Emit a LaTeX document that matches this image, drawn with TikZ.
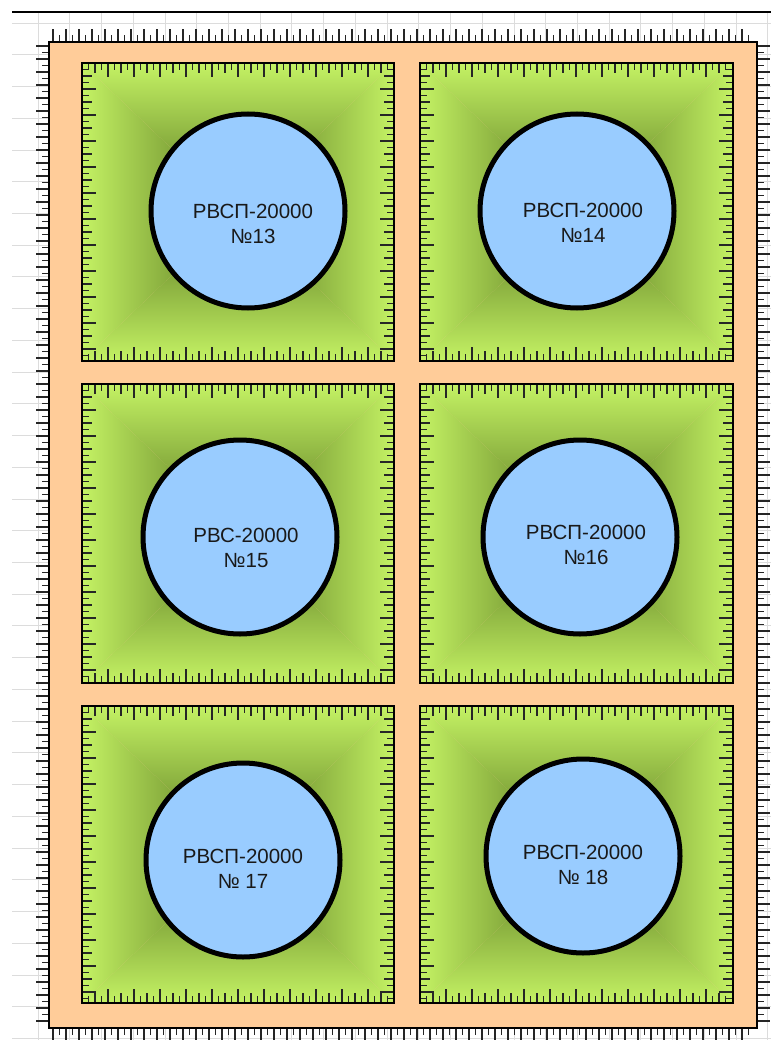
\documentclass[tikz,border=0pt]{standalone}
\usepackage{fontspec}
\setmainfont{Liberation Sans}
\definecolor{bundfill}{HTML}{FFCC99}
\definecolor{padedge}{HTML}{C4F264}
\definecolor{padmid}{HTML}{56741F}
\definecolor{tankblue}{HTML}{99CCFF}
\definecolor{gridgray}{HTML}{DCDCDC}
\tikzset{
  gridline/.style={gridgray,line width=0.8pt},
  rim/.style={draw=black,line width=2.4pt},
  rulemark/.style={black!85,line width=1.2pt},
  tank/.style={circle,draw=black,line width=5pt,fill=tankblue,minimum size=194pt,inner sep=0pt},
  tanklabel/.style={align=center,text=black!90,font=\fontsize{20.5}{25}\selectfont}
}
% one bunded pad: left, top, right, bottom
\newcommand{\bundpad}[4]{%
  \coordinate (m) at ({(#1+#3)/2},{(#2+#4)/2});
  \shade[top color=padedge,bottom color=padmid] (#1,#2) -- (#3,#2) -- (m) -- cycle;
  \shade[top color=padmid,bottom color=padedge] (#1,#4) -- (#3,#4) -- (m) -- cycle;
  \shade[left color=padedge,right color=padmid] (#1,#2) -- (#1,#4) -- (m) -- cycle;
  \shade[left color=padmid,right color=padedge] (#3,#2) -- (#3,#4) -- (m) -- cycle;
  \foreach \i [evaluate=\i as \l using {ifthenelse(mod(\i,4)==0,14,ifthenelse(mod(\i,2)==0,10,7))}] in {1,...,47} {
    \draw[rulemark] ({#1+\i*6.5},#2) -- ++(0,\l);
    \draw[rulemark] ({#1+\i*6.5},#4) -- ++(0,-\l);
  }
  \foreach \i [evaluate=\i as \l using {ifthenelse(mod(\i,4)==0,14,ifthenelse(mod(\i,2)==0,10,7))}] in {1,...,45} {
    \draw[rulemark] (#1,{#2+\i*6.5}) -- ++(\l,0);
    \draw[rulemark] (#3,{#2+\i*6.5}) -- ++(-\l,0);
  }
  \draw[rim] (#1,#2) rectangle (#3,#4);
}

\begin{document}
\begin{tikzpicture}[x=1pt,y=-1pt]
  \useasboundingbox[fill=white] (0,0) rectangle (771,1040);
  \foreach \k in {0,...,23} \draw[gridline] ({38+\k*31.73},12) -- ++(0,1028);
  \foreach \k in {0,...,32} \draw[gridline] (12,{23+\k*31.73}) -- ++(759,0);
  \draw[black,line width=1.2pt] (12,12) -- (771,12);

  \foreach \i [evaluate=\i as \l using {ifthenelse(mod(\i,2)==0,13,7)}] in {0,...,107} {
    \draw[rulemark] ({53+\i*6.5},42) -- ++(0,-\l);
    \draw[rulemark] ({53+\i*6.5},1028) -- ++(0,\l);
  }
  \foreach \i [evaluate=\i as \l using {ifthenelse(mod(\i,2)==0,13,7)}] in {0,...,150} {
    \draw[rulemark] (49,{46+\i*6.5}) -- ++(-\l,0);
    \draw[rulemark] (757,{46+\i*6.5}) -- ++(\l,0);
  }
  \draw[rim,fill=bundfill] (49,42) rectangle (757,1028);

  \bundpad{82}{63}{394}{361}
  \bundpad{420}{63}{733}{361}
  \bundpad{82}{384}{394}{683}
  \bundpad{420}{384}{733}{683}
  \bundpad{82}{706}{394}{1003}
  \bundpad{420}{706}{733}{1003}

  \node[tank] (t13) at (248,211) {};
  \node[tank] (t14) at (577,211) {};
  \node[tank] (t15) at (240,537) {};
  \node[tank] (t16) at (580,537) {};
  \node[tank] (t17) at (243,860) {};
  \node[tank] (t18) at (583,856) {};

  \node[tanklabel] (l13) at ([shift={(5,13)}]t13.center) {РВСП-20000\\№13};
  \node[tanklabel] (l14) at ([shift={(6,12)}]t14.center) {РВСП-20000\\№14};
  \node[tanklabel] (l15) at ([shift={(6,11)}]t15.center) {РВС-20000\\№15};
  \node[tanklabel] (l16) at ([shift={(6,8)}]t16.center) {РВСП-20000\\№16};
  \node[tanklabel] (l17) at ([shift={(0,9)}]t17.center) {РВСП-20000\\№ 17};
  \node[tanklabel] (l18) at ([shift={(0,9)}]t18.center) {РВСП-20000\\№ 18};
\end{tikzpicture}
\end{document}
